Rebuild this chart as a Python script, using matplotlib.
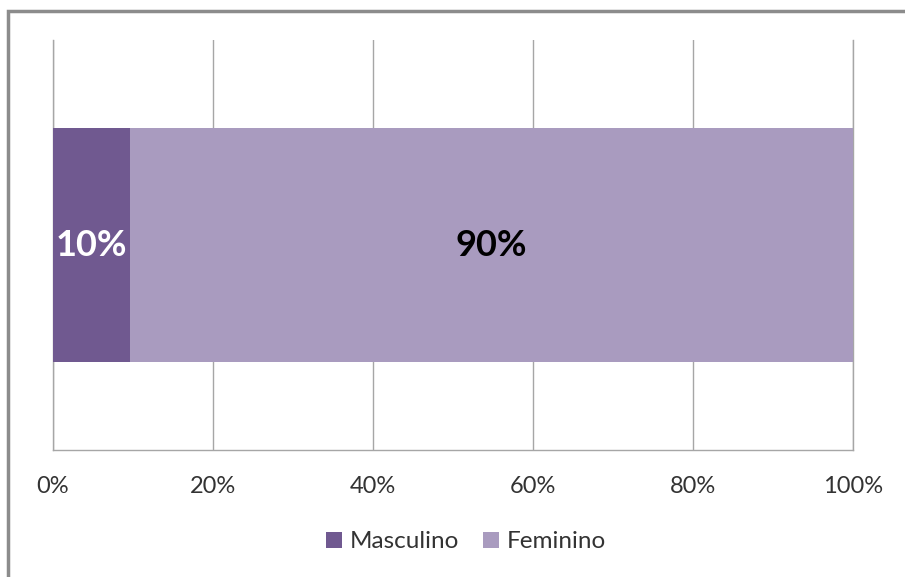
import matplotlib
matplotlib.use("Agg")
import matplotlib.pyplot as plt
from matplotlib.patches import Rectangle

categories = [""]
series_names = ["Masculino", "Feminino"]
masculino = [9.6]
feminino = [90.4]
tick_values = [0, 20, 40, 60, 80, 100]
tick_labels = ["0%", "20%", "40%", "60%", "80%", "100%"]
colors = ["#705990", "#A99BBF"]

plt.rcParams['font.family'] = ['Lato', 'DejaVu Sans']

fig = plt.figure(figsize=(9.05, 5.77), dpi=100)
W, H = 905, 577
ax = fig.add_axes([53 / W, 1 - 450 / H, 800 / W, 410 / H])

y = list(range(len(categories)))
bh = 0.57
b1 = ax.barh(y, masculino, height=bh, color=colors[0], label=series_names[0], zorder=3)
b2 = ax.barh(y, feminino, left=masculino, height=bh, color=colors[1], label=series_names[1], zorder=3)

for v in masculino:
    ax.text(v / 2, 0, f"{v:.0f}%", ha="center", va="center", fontsize=26, fontweight="bold", color="white", zorder=4)
for v, l in zip(feminino, masculino):
    ax.text(l + v / 2, 0, f"{v:.0f}%", ha="center", va="center", fontsize=26, fontweight="bold", color="black", zorder=4)

ax.set_xlim(0, 100)
ax.set_ylim(-0.5, 0.5)
ax.set_xticks(tick_values)
ax.set_xticklabels(tick_labels, fontsize=17, color="#333333")
ax.set_yticks([])
ax.tick_params(axis="x", length=0, pad=19)
ax.grid(axis="x", color="#A6A6A6", linewidth=1, zorder=0)
ax.spines["top"].set_visible(False)
for s in ["left", "bottom", "right"]:
    ax.spines[s].set_color("#A6A6A6")
    ax.spines[s].set_linewidth(1)

leg = fig.legend(handles=[b1, b2], labels=series_names, loc="center", bbox_to_anchor=(466 / W, 1 - 542 / H),
                 ncol=2, frameon=False, fontsize=17.5, handlelength=0.65, handleheight=0.65,
                 handletextpad=0.3, columnspacing=1.0)
for t in leg.get_texts():
    t.set_color("#333333")

# outer chart frame
fig.patches.append(Rectangle((8 / W, -0.1), 1.2, 1 - 11 / H + 0.1, transform=fig.transFigure,
                             fill=False, edgecolor="#8C8C8C", linewidth=2.5))

fig.savefig("out.png", dpi=100)
